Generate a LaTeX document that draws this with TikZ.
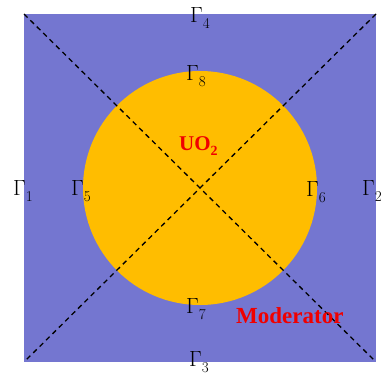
\documentclass[tikz,border=0pt]{standalone}
\usepackage{fontspec}
\newfontfamily\timesfont{Liberation Serif}
\definecolor{modblue}{RGB}{116,118,208}
\definecolor{fuelyellow}{RGB}{255,189,0}
\definecolor{labred}{RGB}{240,0,0}
\newcommand\gam[1]{Γ\raisebox{-6pt}{\fontsize{15}{15}\selectfont #1}}
\tikzset{
  glabel/.style={anchor=base west,inner sep=0pt,font=\fontsize{22}{22}\selectfont},
  matlabel/.style={anchor=base west,inner sep=0pt,text=labred,font=\timesfont\bfseries},
  diag/.style={dashed,dash pattern=on 5pt off 4pt,line width=1.3pt,black}
}
\begin{document}
\begin{tikzpicture}[x=1pt,y=-1pt]
\useasboundingbox (0,0) rectangle (382,372);
\coordinate (tl) at (24,14);
\coordinate (tr) at (376,14);
\coordinate (bl) at (24,362);
\coordinate (br) at (376,362);
\fill[modblue] (tl) rectangle (br);
\node[circle,fill=fuelyellow,minimum size=234pt,inner sep=0pt] (fuel) at (200,188) {};
\draw[diag] (tl) -- (br);
\draw[diag] (tr) -- (bl);
\node[glabel] (g4) at (190,22) {\gam{4}};
\node[glabel] (g3) at (189,366) {\gam{3}};
\node[glabel] (g1) at (13,195) {\gam{1}};
\node[glabel] (g5) at (71,195) {\gam{5}};
\node[glabel] (g6) at (306,196) {\gam{6}};
\node[glabel] (g2) at (362,195) {\gam{2}};
\node[glabel] (g8) at (186,80) {\gam{8}};
\node[glabel] (g7) at (186,313) {\gam{7}};
\node[matlabel,font=\timesfont\bfseries\fontsize{21}{21}\selectfont] (uo2) at (179,150) {UO\raisebox{-5pt}{\fontsize{14}{14}\selectfont 2}};
\node[matlabel,font=\timesfont\bfseries\fontsize{23}{23}\selectfont] (mod) at (236,323) {Moderator};
\end{tikzpicture}
\end{document}
